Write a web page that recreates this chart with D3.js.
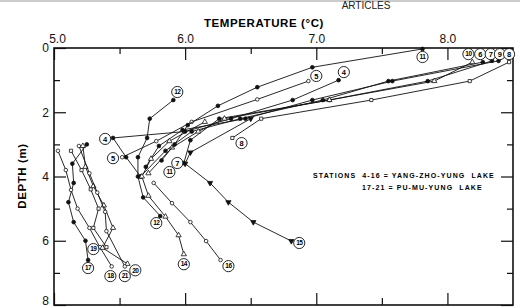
<!DOCTYPE html>
<html>
<head>
<meta charset="utf-8">
<script src="https://cdn.jsdelivr.net/npm/d3@7"></script>
<style>
  body { margin: 0; background: #fff; }
  svg { font-family: "Liberation Sans", Arial, sans-serif; }
  .axis text { font-size: 12px; fill: #111; }
  .axis line { stroke: #111; stroke-width: 1.2; }
  .axis path { display: none; }
</style>
</head>
<body>
<div id="chart"></div>
<script>
var svgWidth = 520;
var svgHeight = 307;

// temperature / depth profiles, one array per station: [temperature (C), depth (m)]
var st4 = [[7.17, 1.0], [6.82, 1.62], [6.35, 2.2], [6.0, 2.6], [5.45, 2.8], [5.55, 3.4], [5.66, 4.0]];
var st5 = [[6.94, 1.03], [6.55, 1.6], [6.05, 2.3], [5.78, 2.9], [5.52, 3.4]];
var st6 = [[8.27, 0.44], [7.55, 1.03], [7.05, 1.62], [6.42, 2.2], [6.05, 2.6], [5.85, 3.2], [5.66, 4.0]];
var st7 = [[8.34, 0.4], [7.85, 1.03], [7.1, 1.62], [6.26, 2.2], [6.04, 2.87], [5.99, 3.58]];
var st8 = [[8.47, 0.44], [8.17, 1.03], [7.42, 1.62], [6.58, 2.2], [6.36, 2.8]];
var st9 = [[8.39, 0.4], [7.58, 1.03], [6.97, 1.62], [6.46, 2.2], [5.98, 2.55], [5.8, 3.05], [5.7, 3.7]];
var st10 = [[8.19, 0.44], [7.9, 1.03], [7.1, 1.62], [6.3, 2.2], [6.1, 2.6], [5.9, 3.1], [5.72, 3.9]];
var st11 = [[7.81, 0.03], [6.97, 0.6], [6.55, 1.22], [6.25, 1.8], [6.02, 2.4], [5.92, 3.0], [5.82, 3.5]];
var st12 = [[5.91, 1.62], [5.73, 2.2], [5.71, 2.8], [5.64, 3.4], [5.64, 4.0], [5.68, 4.65], [5.81, 5.23]];
var st14 = [[6.15, 2.3], [5.88, 2.9], [5.74, 3.45], [5.67, 4.0], [5.72, 4.6], [5.85, 5.25], [5.95, 5.83], [5.99, 6.42]];
var st15 = [[6.5, 2.2], [6.04, 3.25], [6.0, 3.6], [6.19, 4.2], [6.33, 4.8], [6.52, 5.42], [6.81, 6.01]];
var st16 = [[5.76, 4.2], [5.9, 4.83], [6.04, 5.42], [6.16, 6.01], [6.27, 6.6]];
var st17 = [[5.25, 3.0], [5.14, 3.6], [5.15, 4.2], [5.11, 4.8], [5.15, 5.42], [5.24, 6.0], [5.26, 6.6]];
var st18 = [[5.03, 3.2], [5.09, 3.8], [5.13, 4.42], [5.18, 5.0], [5.27, 5.6], [5.35, 6.2], [5.44, 6.8]];
var st19 = [[5.13, 3.2], [5.21, 3.8], [5.28, 4.4], [5.34, 5.0], [5.3, 5.6], [5.4, 6.2]];
var st20 = [[5.22, 3.05], [5.24, 3.7], [5.3, 4.3], [5.38, 4.9], [5.45, 5.6], [5.37, 6.22], [5.56, 6.72]];
var st21 = [[5.19, 3.05], [5.27, 3.9], [5.33, 4.5], [5.39, 5.1], [5.4, 5.7], [5.54, 6.8]];

// circled station numbers: [label, temperature, depth]
var stationLabels = [
    ["11", 7.81, 0.28], ["5", 7.0, 0.87], ["4", 7.21, 0.75],
    ["10", 8.16, 0.19], ["6", 8.25, 0.19], ["7", 8.33, 0.19], ["9", 8.40, 0.19], ["8", 8.47, 0.19],
    ["12", 5.94, 1.37], ["8", 6.43, 2.96], ["4", 5.39, 2.83], ["5", 5.45, 3.43],
    ["7", 5.94, 3.58], ["11", 5.88, 3.86], ["12", 5.78, 5.45], ["14", 5.99, 6.73],
    ["16", 6.33, 6.79], ["15", 6.87, 6.07], ["17", 5.26, 6.85], ["18", 5.43, 7.1],
    ["21", 5.54, 7.1], ["20", 5.62, 6.92], ["19", 5.3, 6.26]
];

var xMajor = [5.0, 6.0, 7.0, 8.0];
var xMinor = [5.5, 6.5, 7.5];
var yMajor = [0, 2, 4, 6, 8];
var yMinor = [1, 3, 5, 7];

var legendLines = ["STATIONS  4-16 = YANG-ZHO-YUNG  LAKE", "17-21 = PU-MU-YUNG  LAKE"];

var svg = d3.select("#chart")
    .append("svg")
    .attr("width", svgWidth)
    .attr("height", svgHeight);

var xScale = d3.scaleLinear().domain([5, 8.5]).range([54, 513]);
var yScale = d3.scaleLinear().domain([0, 8]).range([48, 305]);

// page header strip of the journal
svg.append("line")
    .attr("x1", 0).attr("x2", 520).attr("y1", 1).attr("y2", 1)
    .attr("stroke", "#999").attr("stroke-width", 1);
svg.append("text")
    .attr("x", 366).attr("y", 9)
    .attr("text-anchor", "middle")
    .attr("font-size", "10px")
    .attr("fill", "#222")
    .text("ARTICLES");

// axes, ticks point inwards
function tickAxis(gen, values, size, labels) {
    return gen.tickValues(values).tickSize(-size).tickPadding(5)
        .tickFormat(labels ? labels : "");
}

svg.append("g").attr("class", "axis")
    .attr("transform", "translate(0,48)")
    .call(tickAxis(d3.axisTop(xScale), xMajor, 12, d3.format(".1f")))
    .selectAll("text").attr("dx", d => d == 5 ? 3 : 0);
svg.append("g").attr("class", "axis")
    .attr("transform", "translate(0,48)")
    .call(tickAxis(d3.axisTop(xScale), xMinor, 6));
svg.append("g").attr("class", "axis")
    .attr("transform", "translate(0,305)")
    .call(tickAxis(d3.axisBottom(xScale), xMajor, 12));
svg.append("g").attr("class", "axis")
    .attr("transform", "translate(0,305)")
    .call(tickAxis(d3.axisBottom(xScale), xMinor, 7));

svg.append("g").attr("class", "axis")
    .attr("transform", "translate(54,0)")
    .call(tickAxis(d3.axisLeft(yScale), yMajor, 12, d3.format("d")))
    .selectAll("text")
    .attr("font-size", "13px")
    .attr("dy", d => d == 8 ? "-0.05em" : "0.32em");
svg.append("g").attr("class", "axis")
    .attr("transform", "translate(54,0)")
    .call(tickAxis(d3.axisLeft(yScale), yMinor, 6));
svg.append("g").attr("class", "axis")
    .attr("transform", "translate(513,0)")
    .call(tickAxis(d3.axisRight(yScale), yMajor, 12));
svg.append("g").attr("class", "axis")
    .attr("transform", "translate(513,0)")
    .call(tickAxis(d3.axisRight(yScale), yMinor, 6));

// frame
svg.append("rect")
    .attr("x", xScale(5)).attr("y", yScale(0))
    .attr("width", xScale(8.5) - xScale(5))
    .attr("height", yScale(8) - yScale(0))
    .attr("fill", "none").attr("stroke", "#111").attr("stroke-width", 1.6);

// axis titles
svg.append("text")
    .attr("x", 264).attr("y", 27)
    .attr("text-anchor", "middle")
    .attr("font-size", "11.5px").attr("font-weight", "bold")
    .attr("letter-spacing", "0.6px")
    .text("TEMPERATURE  (°C)");
svg.append("text")
    .attr("transform", "translate(26,176) rotate(-90)")
    .attr("text-anchor", "middle")
    .attr("font-size", "11.5px").attr("font-weight", "bold")
    .attr("letter-spacing", "0.6px")
    .text("DEPTH  (m)");

// station profiles
var profiles = [
    {data: st4, m: "fc"}, {data: st5, m: "oc"}, {data: st6, m: "fc"}, {data: st7, m: "fc"},
    {data: st8, m: "os"}, {data: st9, m: "fc"}, {data: st10, m: "ot"}, {data: st11, m: "fc"},
    {data: st12, m: "fc"}, {data: st14, m: "ot"}, {data: st15, m: "ft"}, {data: st16, m: "oc"},
    {data: st17, m: "fc"}, {data: st18, m: "oc"}, {data: st19, m: "os"}, {data: st20, m: "ot"},
    {data: st21, m: "oc"}
];

var line = d3.line()
    .x(d => xScale(d[0]))
    .y(d => yScale(d[1]));

var symbolFor = {
    fc: d3.symbol().type(d3.symbolCircle).size(11),
    oc: d3.symbol().type(d3.symbolCircle).size(10),
    os: d3.symbol().type(d3.symbolSquare).size(10),
    ot: d3.symbol().type(d3.symbolTriangle).size(12),
    ft: d3.symbol().type(d3.symbolTriangle).size(12)
};

var plot = svg.append("g");

profiles.forEach(function(p) {
    plot.append("path")
        .attr("d", line(p.data))
        .attr("fill", "none")
        .attr("stroke", "#111")
        .attr("stroke-width", 0.9);

    plot.selectAll(null)
        .data(p.data)
        .enter()
        .append("path")
        .attr("d", symbolFor[p.m]())
        .attr("transform", d => `translate(${xScale(d[0])},${yScale(d[1])})` + (p.m == "ft" ? " rotate(180)" : ""))
        .attr("fill", p.m.charAt(0) == "f" ? "#111" : "#fff")
        .attr("stroke", "#111")
        .attr("stroke-width", 0.8);
});

// circled labels
var labelGroup = svg.selectAll(".stlabel")
    .data(stationLabels)
    .enter()
    .append("g")
    .attr("class", "stlabel")
    .attr("transform", d => `translate(${xScale(d[1])},${yScale(d[2])})`);

labelGroup.append("circle")
    .attr("r", 5.6)
    .attr("fill", "#fff")
    .attr("stroke", "#111")
    .attr("stroke-width", 0.9);

labelGroup.append("text")
    .attr("text-anchor", "middle")
    .attr("dy", "0.35em")
    .attr("font-size", d => d[0].length > 1 ? "6.5px" : "7.5px")
    .attr("font-weight", "bold")
    .attr("letter-spacing", d => d[0].length > 1 ? "-0.5px" : "0")
    .text(d => d[0]);

// legend note
svg.append("text")
    .attr("x", 313).attr("y", 178)
    .attr("font-size", "7px").attr("font-weight", "bold")
    .attr("letter-spacing", "1.1px")
    .attr("xml:space", "preserve")
    .text(legendLines[0]);
svg.append("text")
    .attr("x", 362).attr("y", 190)
    .attr("font-size", "7px").attr("font-weight", "bold")
    .attr("letter-spacing", "1.1px")
    .attr("xml:space", "preserve")
    .text(legendLines[1]);
</script>
</body>
</html>
